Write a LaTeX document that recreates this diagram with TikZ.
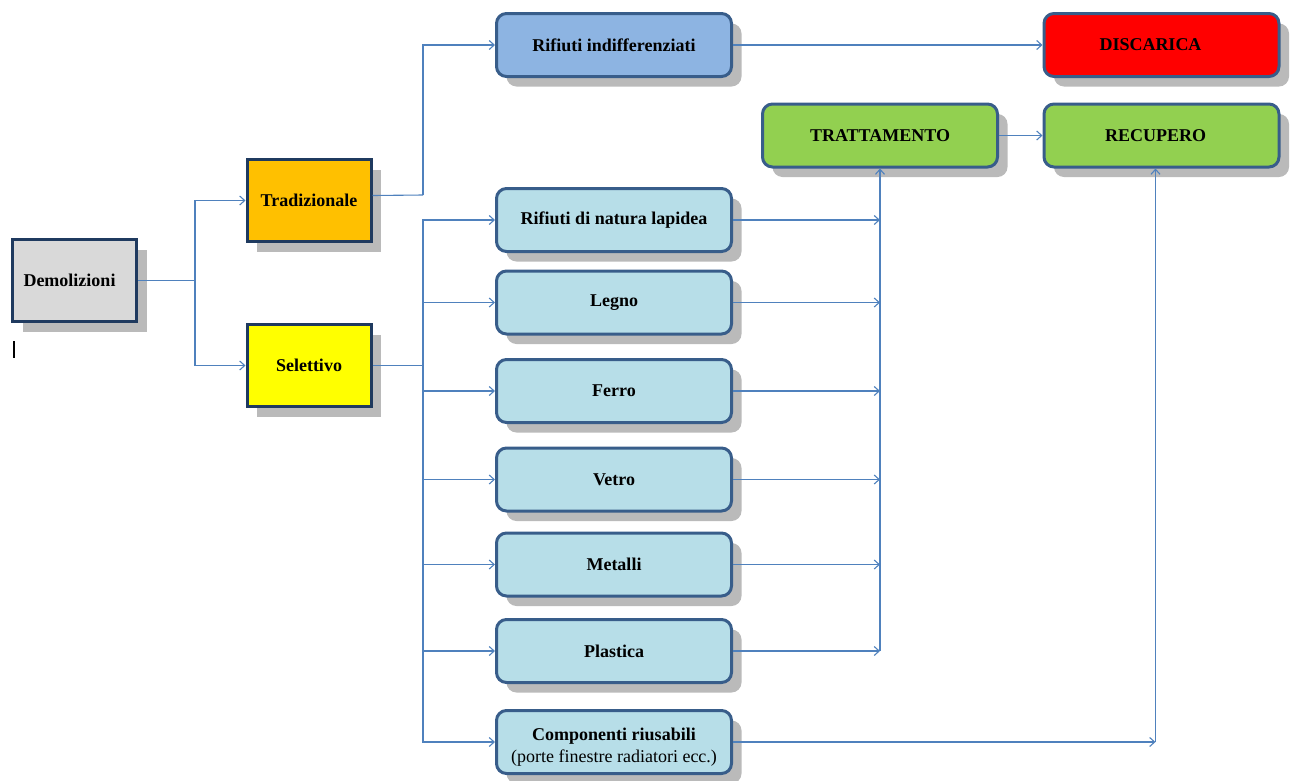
\documentclass[tikz,border=0pt]{standalone}
\usepackage{fontspec}
\setmainfont{Liberation Serif}
\usepackage{tikz}
\usetikzlibrary{arrows.meta,shadows}

\definecolor{boxline}{HTML}{1F3A5F}
\definecolor{roundline}{HTML}{385D8A}
\definecolor{linkblue}{HTML}{4F81BD}
\definecolor{grigio}{HTML}{D9D9D9}
\definecolor{arancio}{HTML}{FFC000}
\definecolor{giallo}{HTML}{FFFF00}
\definecolor{indiffblue}{HTML}{8DB4E2}
\definecolor{chiaro}{HTML}{B7DEE8}
\definecolor{verde}{HTML}{92D050}
\definecolor{rosso}{HTML}{FF0000}

\begin{document}
\begin{tikzpicture}[x=1pt,y=-1pt,
    ombra/.style={drop shadow={shadow xshift=10pt,shadow yshift=-10pt,fill=black!27,opacity=1}},
    fase/.style={draw=boxline,line width=3pt,ombra,minimum width=124pt,minimum height=82pt,
      font=\fontsize{18}{21}\selectfont\bfseries},
    rifiuto/.style={draw=roundline,line width=3pt,rounded corners=10pt,ombra,fill=chiaro,
      minimum width=235pt,minimum height=63pt,align=center,font=\fontsize{18}{21}\selectfont\bfseries},
    link/.style={draw=linkblue,line width=1.1pt},
    arr/.style={link,-{Straight Barb[length=5pt,width=9pt]}}]
  \useasboundingbox (0,0) rectangle (1296,780);

  % colonna sinistra
  \draw (74.5,280.5) node[fase,fill=grigio] (dem) {\hspace{-10pt}Demolizioni};
  \draw (309,200.5) node[fase,fill=arancio] (trad) {Tradizionale};
  \draw (309,365.5) node[fase,fill=giallo] (sel) {Selettivo};
  \draw[line width=1.6pt] (14,341) -- (14,358);

  % rifiuti
  \draw (614,45) node[rifiuto,fill=indiffblue] (indiff) {Rifiuti indifferenziati};
  \draw (614,220) node[rifiuto] (lapidea) {Rifiuti di natura lapidea};
  \draw (614,302.5) node[rifiuto] (legno) {Legno};
  \draw (614,391) node[rifiuto] (ferro) {Ferro};
  \draw (614,479.5) node[rifiuto] (vetro) {Vetro};
  \draw (614,564.5) node[rifiuto] (metalli) {Metalli};
  \draw (614,651) node[rifiuto] (plastica) {Plastica};
  \draw (614,742) node[rifiuto] (comp) {\raisebox{-5pt}[\height][\depth]{\begin{tabular}{@{}c@{}}Componenti riusabili\\[1pt]
    {\mdseries(porte finestre radiatori ecc.)}\end{tabular}}};

  % destinazioni
  \draw (880,135.5) node[rifiuto,fill=verde] (tratt) {TRATTAMENTO};
  \draw (1161.5,135.5) node[rifiuto,fill=verde] (recup) {\hspace{-12pt}RECUPERO};
  \draw (1161.5,45) node[rifiuto,fill=rosso] (disc) {\hspace{-22pt}DISCARICA};

  \coordinate (jdem) at (195,280.5);
  \coordinate (jtrad) at (423,195);
  \coordinate (jsel) at (423,365.5);

  \draw[link] (dem) -- (jdem);
  \draw[arr] (jdem) |- (trad);
  \draw[arr] (jdem) |- (sel);
  \draw[link] ([yshift=5pt]trad.east) -- (jtrad);
  \draw[arr] (jtrad) |- (indiff);
  \draw[link] (sel) -- (jsel);
  \foreach \n in {lapidea,legno,ferro,vetro,metalli,plastica,comp}
    \draw[arr] (jsel) |- (\n.west);

  \draw[arr] (indiff) -- (disc);
  \draw[arr] (tratt) -- (recup);
  \foreach \n in {lapidea,legno,ferro,vetro,metalli,plastica}
    \draw[arr] (\n.east) -- (\n.east -| tratt.south);
  \draw[arr] (plastica.east -| tratt.south) -- (tratt.south);
  \coordinate (jcomp) at ([xshift=-6pt]recup.south |- comp.east);
  \draw[arr] (comp.east) -- (jcomp);
  \draw[arr] (jcomp) -- ([xshift=-6pt]recup.south);
\end{tikzpicture}
\end{document}
